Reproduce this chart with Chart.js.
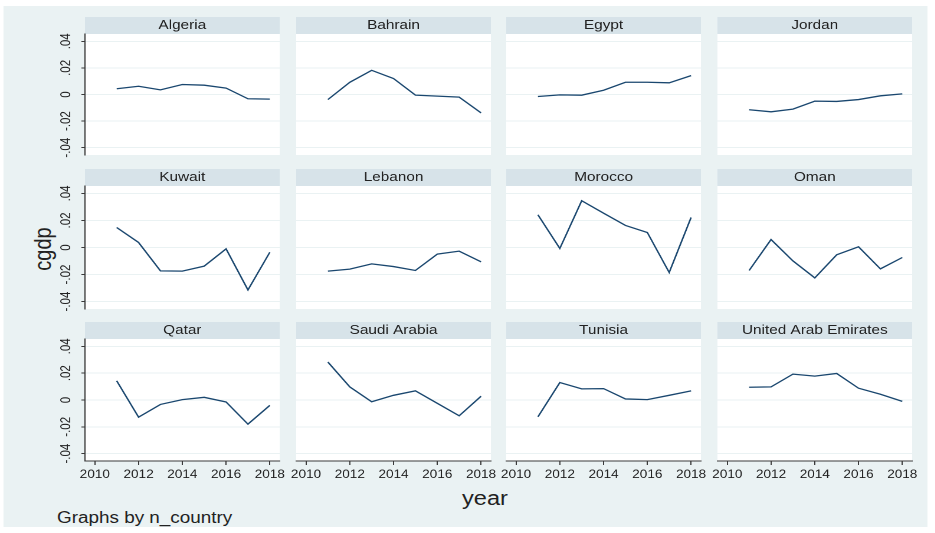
<!DOCTYPE html>
<html>
<head>
<meta charset="utf-8">
<script src="https://cdn.jsdelivr.net/npm/chart.js@4.4.0/dist/chart.umd.min.js"></script>
<style>
  html, body { margin:0; padding:0; background:#fff; }
  body { width:935px; height:533px; overflow:hidden; position:relative; }
  #stage { position:absolute; left:0; top:0; height:533px; transform-origin:0 0;
           font-family:"Liberation Sans", Arial, sans-serif; color:#222; }
  #region { position:absolute; background:#eaf2f3; }
  .panel { position:absolute; }
  .note { position:absolute; white-space:nowrap; line-height:1; }
</style>
</head>
<body>
<div id="stage">
  <div id="region"></div>
  <div class="note" id="ytitle">cgdp</div>
  <div class="note" id="xtitle">year</div>
  <div class="note" id="byNote">Graphs by n_country</div>
</div>
<script>
// cgdp by country, 2011-2018
const countries = ['Algeria', 'Bahrain', 'Egypt', 'Jordan', 'Kuwait', 'Lebanon',
                   'Morocco', 'Oman', 'Qatar', 'Saudi Arabia', 'Tunisia', 'United Arab Emirates'];
const years = [2011, 2012, 2013, 2014, 2015, 2016, 2017, 2018];

const algeria     = [0.0043, 0.0062, 0.0035, 0.0075, 0.0070, 0.0048, -0.0032, -0.0035];
const bahrain     = [-0.0038, 0.0092, 0.0182, 0.0120, -0.0005, -0.0012, -0.0020, -0.0138];
const egypt       = [-0.0015, -0.0003, -0.0005, 0.0032, 0.0092, 0.0092, 0.0088, 0.0142];
const jordan      = [-0.0115, -0.0130, -0.0110, -0.0050, -0.0052, -0.0038, -0.0010, 0.0005];
const kuwait      = [0.0148, 0.0037, -0.0173, -0.0175, -0.0138, -0.0010, -0.0314, -0.0035];
const lebanon     = [-0.0175, -0.0160, -0.0121, -0.0141, -0.0170, -0.0049, -0.0027, -0.0106];
const morocco     = [0.0242, -0.0007, 0.0346, 0.0254, 0.0163, 0.0111, -0.0185, 0.0222];
const oman        = [-0.0170, 0.0059, -0.0099, -0.0225, -0.0054, 0.0005, -0.0158, -0.0074];
const qatar       = [0.0143, -0.0128, -0.0033, 0.0003, 0.0020, -0.0015, -0.0180, -0.0040];
const saudiArabia = [0.0283, 0.0098, -0.0013, 0.0035, 0.0068, -0.0025, -0.0118, 0.0028];
const tunisia     = [-0.0125, 0.0130, 0.0083, 0.0085, 0.0008, 0.0003, 0.0035, 0.0068];
const uae         = [0.0095, 0.0098, 0.0193, 0.0178, 0.0198, 0.0088, 0.0043, -0.0010];

const series = [algeria, bahrain, egypt, jordan, kuwait, lebanon,
                morocco, oman, qatar, saudiArabia, tunisia, uae];

const yTicks = [-0.04, -0.02, 0, 0.02, 0.04];
const xTicks = [2010, 2012, 2014, 2016, 2018];

// layout (screen px); the stage is stretched horizontally by S
const S = 1.18;
const colX = [85, 296, 506, 717];
const rowY = [17, 169, 322];
const plotH = [121, 123, 122];
const panelW = 195, stripH = 17, axisW = 50, xAxisH = 30, edge = 20, below = 12;

const LINE = '#1a476f', GRID = '#eaf2f3', STRIP = '#d7e3e9', AXIS = '#3a3a3a', TEXT = '#222';
const FONT = '"Liberation Sans", Arial, sans-serif';

const stage = document.getElementById('stage');
stage.style.width = (935 / S) + 'px';
stage.style.transform = 'scaleX(' + S + ')';

function place(el, css) { Object.assign(el.style, css); }
place(document.getElementById('region'), { left: 4 / S + 'px', top: '6px', width: (924 / S) + 'px', height: '521px' });
place(document.getElementById('ytitle'), { left: 43 / S + 'px', top: '249px', fontSize: '20px',
  transform: 'translate(-50%,-50%) rotate(-90deg)' });
place(document.getElementById('xtitle'), { left: 485 / S + 'px', top: '488px', fontSize: '20px',
  transform: 'translateX(-50%)' });
place(document.getElementById('byNote'), { left: 57 / S + 'px', top: '510px', fontSize: '16px' });

// white plot region + grey strip behind each panel title
const panelBg = {
  id: 'panelBg',
  beforeDraw(chart) {
    const { ctx, chartArea: a } = chart;
    const t = chart.titleBlock;
    ctx.save();
    ctx.fillStyle = '#fff';
    ctx.fillRect(a.left, a.top, a.right - a.left, a.bottom - a.top);
    ctx.fillStyle = STRIP;
    ctx.fillRect(a.left, t.top, a.right - a.left, t.bottom - t.top);
    ctx.restore();
  }
};

const fmtY = v => v === 0 ? '0' : (v < 0 ? '-' : '') + String(Math.abs(v)).replace(/^0/, '');

countries.forEach((name, i) => {
  const r = Math.floor(i / 4), c = i % 4;
  const firstCol = c === 0, lastRow = r === 2;
  const padL = firstCol ? axisW : edge;
  const padB = lastRow ? 0 : below;
  const w = padL + panelW / S + edge;
  const h = stripH + plotH[r] + (lastRow ? xAxisH : padB);

  const box = document.createElement('div');
  box.className = 'panel';
  place(box, { left: (colX[c] / S - padL) + 'px', top: rowY[r] + 'px',
               width: w + 'px', height: h + 'px' });
  const cv = document.createElement('canvas');
  cv.width = w; cv.height = h;
  box.appendChild(cv);
  stage.appendChild(box);

  new Chart(cv, {
    type: 'line',
    data: {
      datasets: [{
        label: name,
        data: series[i].map((v, k) => ({ x: years[k], y: v })),
        borderColor: LINE, borderWidth: 1.3, pointRadius: 0, tension: 0, fill: false
      }]
    },
    options: {
      responsive: false, animation: false, events: [], devicePixelRatio: 2,
      layout: { padding: { left: firstCol ? 0 : edge, right: edge, top: 0, bottom: padB } },
      plugins: {
        legend: { display: false },
        tooltip: { enabled: false },
        title: {
          display: true, text: name, fullSize: false, color: TEXT,
          font: { family: FONT, size: 13, weight: 'normal', lineHeight: 1 },
          padding: { top: 2, bottom: 2 }
        }
      },
      scales: {
        x: {
          type: 'linear', min: 2009.55, max: 2018.45,
          display: lastRow,
          afterBuildTicks: s => { s.ticks = xTicks.map(v => ({ value: v })); },
          afterFit: s => { s.height = lastRow ? xAxisH : 0; s.paddingLeft = 0; s.paddingRight = 0; },
          border: { display: true, color: AXIS, width: 1 },
          grid: { drawOnChartArea: false, drawTicks: true, tickLength: 4, tickColor: AXIS },
          ticks: { autoSkip: false, maxRotation: 0, padding: 3, color: TEXT,
                   font: { family: FONT, size: 11.5 }, callback: v => String(v) }
        },
        y: {
          min: -0.0455, max: 0.0455,
          afterBuildTicks: s => { s.ticks = yTicks.map(v => ({ value: v })); },
          afterFit: s => { s.width = firstCol ? axisW : 0; s.paddingTop = 0; s.paddingBottom = 0; },
          border: { display: firstCol, color: AXIS, width: 1 },
          grid: { color: GRID, lineWidth: 1, drawTicks: firstCol, tickLength: 3, tickColor: AXIS },
          ticks: { display: firstCol, minRotation: 90, maxRotation: 90, crossAlign: 'center',
                   padding: 3, color: TEXT, font: { family: FONT, size: 11.5 }, callback: fmtY }
        }
      }
    },
    plugins: [panelBg]
  });
});
</script>
</body>
</html>
